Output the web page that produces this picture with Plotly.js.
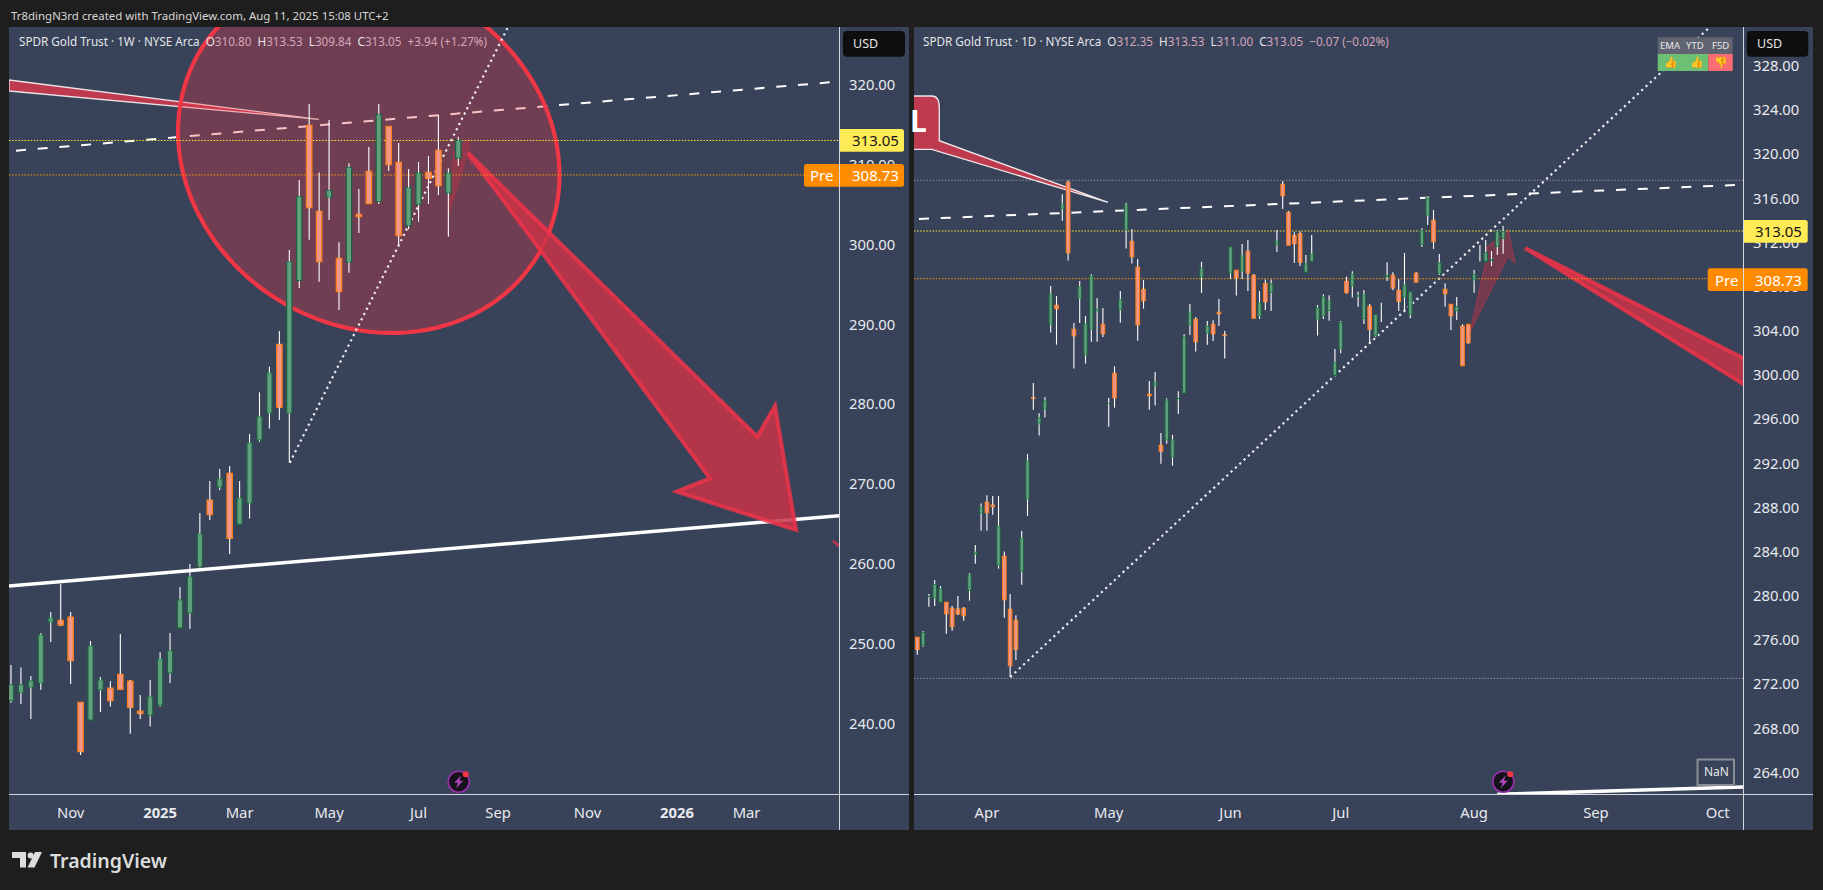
<!DOCTYPE html>
<html><head><meta charset="utf-8">
<script src="https://cdn.plot.ly/plotly-3.0.1.min.js"></script>
<style>html,body{margin:0;padding:0;background:#1e1e1e;overflow:hidden}#c{width:1823px;height:890px}</style>
</head><body><div id="c"></div>
<script>
// ---------- data ----------
const weeklyOpen=[242.85,243.86,244.52,245.02,252.67,252.92,253.3,242.64,240.39,244.15,244.4,246.15,245.28,241.52,241.0,242.27,246.28,251.92,253.8,259.65,267.96,269.59,271.34,264.95,267.58,275.48,278.86,287.5,278.86,295.48,314.95,304.17,305.92,298.28,297.78,303.79,309.18,305.38,314.82,310.31,302.37,305.0,309.06,311.81,306.42,310.80];
const weeklyHigh=[247.32,246.99,245.94,251.29,253.96,257.47,253.96,242.64,250.33,245.82,245.3,251.21,245.44,243.56,245.44,248.91,251.33,257.1,259.98,266.37,270.38,271.88,272.26,270.38,276.27,281.49,284.7,289.17,299.32,308.1,317.62,309.05,315.61,300.28,310.18,306.97,312.23,317.62,314.82,312.73,309.47,310.35,311.1,316.24,309.56,313.53];
const weeklyLow=[242.6,242.43,240.56,244.23,250.2,252.2,244.94,236.04,240.39,241.43,242.1,244.27,238.7,240.56,239.6,242.1,245.07,251.92,251.83,259.52,265.49,269.25,261.23,264.95,265.66,275.3,276.94,278.02,272.68,294.56,300.62,295.35,303.08,291.8,296.48,301.45,305.13,305.09,309.22,299.95,301.91,302.87,305.09,306.22,300.99,309.84];
const weeklyClose=[244.86,244.86,245.36,251.12,253.25,252.33,247.86,236.46,249.74,245.48,242.85,244.27,242.02,241.23,243.35,248.11,249.12,255.51,258.39,263.78,266.16,270.67,263.2,268.29,275.18,278.44,283.95,279.61,297.86,306.05,304.63,297.86,306.8,294.1,309.68,303.5,305.13,316.32,310.02,301.12,307.17,309.01,308.3,307.38,309.01,313.05];

const dailyOpen=[276.25,275.52,279.9,279.78,279.42,279.42,278.87,278.81,278.87,280.47,283.76,287.48,288.47,288.23,282.77,283.58,278.78,277.79,282.22,288.75,297.96,295.54,296.9,304.6,306.32,315.02,317.47,304.15,306.93,301.8,304.15,305.78,304.6,297.39,300.16,305.87,313.12,312.12,309.77,307.77,298.26,298.99,293.64,294.1,292.56,297.84,298.35,304.51,305.06,308.86,303.76,304.6,305.69,303.64,309.22,309.49,309.4,311.22,309.04,305.33,308.29,307.47,311.76,317.28,314.75,312.63,312.82,309.31,310.31,305.06,305.33,305.81,299.98,302.34,308.49,308.04,307.1,305.08,306.23,303.54,306.15,308.89,309.04,307.68,307.05,305.47,309.22,311.82,314.47,314.02,309.19,307.77,306.41,305.78,304.45,304.6,308.59,310.78,310.28,310.34,311.64,312.35];
const dailyHigh=[276.25,276.82,280.17,281.44,280.9,279.42,279.08,279.99,278.99,282.07,284.61,288.38,289.11,289.05,289.05,284.03,280.17,278.24,285.88,292.85,299.29,296.54,298.02,308.08,307.17,316.38,317.62,304.72,308.53,305.36,309.13,306.99,306.08,297.93,300.8,307.62,315.59,313.24,310.52,308.62,299.47,300.29,294.76,297.9,294.58,298.53,303.7,306.45,305.27,310.25,304.9,304.97,306.9,304.0,311.64,309.49,311.88,312.24,309.16,307.62,308.65,308.65,313.15,317.58,314.87,312.94,313.0,310.88,312.7,306.35,307.32,307.23,302.37,304.9,308.92,309.4,307.56,307.71,306.44,305.5,306.56,310.22,309.31,308.68,311.06,307.56,309.34,313.3,316.17,314.96,310.97,308.31,306.41,307.08,304.6,304.6,309.52,311.79,312.24,311.24,313.15,313.53];
const dailyLow=[274.68,275.4,279.02,279.08,279.42,276.58,276.85,278.27,277.76,279.57,282.92,285.91,285.91,287.36,282.47,278.03,272.68,274.19,281.02,287.24,296.87,294.52,296.15,303.85,302.76,313.99,310.37,300.59,304.72,301.04,303.03,303.03,303.46,295.33,297.05,304.75,311.46,310.1,303.12,306.02,296.87,297.24,291.98,293.79,291.8,296.48,298.35,303.64,302.13,307.44,302.76,303.09,304.45,301.5,308.71,307.2,308.71,307.62,305.15,305.09,305.9,305.81,311.15,315.05,311.76,310.16,309.89,309.31,310.31,303.58,305.09,304.93,299.98,301.97,307.38,307.02,306.2,304.63,302.88,303.48,304.81,308.53,307.71,305.81,305.84,305.14,308.41,311.6,313.6,311.42,309.07,306.2,304.09,304.99,300.86,302.85,307.47,310.28,310.28,309.88,310.88,311.0];
const dailyClose=[275.16,276.7,280.0,281.05,280.68,278.39,277.21,278.36,278.21,281.95,284.01,288.08,287.54,288.08,286.36,279.66,273.68,275.16,285.27,292.25,297.9,296.15,297.69,307.38,306.02,315.53,311.09,303.58,308.02,304.66,309.01,306.02,303.76,297.45,297.96,306.84,315.44,310.73,304.57,306.75,298.14,299.41,293.1,297.78,294.16,297.93,303.49,305.75,303.03,309.74,304.48,303.76,305.57,303.58,311.64,308.83,310.82,309.25,305.15,306.57,306.66,308.29,312.18,316.26,311.76,311.91,310.22,310.1,311.0,306.11,307.11,306.74,301.16,304.78,307.47,309.19,307.23,307.29,304.15,305.5,306.2,309.07,307.89,306.68,308.19,307.56,308.41,313.12,316.07,312.09,310.19,307.38,305.39,306.23,300.86,302.94,309.13,310.82,311.12,310.46,313.05,313.05];

const weeklyTickVals=[6,15,23,32,41,49,58,67,74];
const weeklyTickText=['Nov','<b>2025</b>','Mar','May','Jul','Sep','Nov','<b>2026</b>','Mar'];
const dailyTickVals=[12,33,54,73,96,117,138];
const dailyTickText=['Apr','May','Jun','Jul','Aug','Sep','Oct'];
const weeklyPriceTicks=[240,250,260,270,280,290,300,310,320];
const dailyPriceTicks=[264,268,272,276,280,284,288,292,296,300,304,308,312,316,320,324,328];
const lastPrice=313.05, prePrice=308.73;
const weeklyLegend=['O310.80','H313.53','L309.84','C313.05','+3.94 (+1.27%)'];
const dailyLegend=['O312.35','H313.53','L311.00','C313.05','−0.07 (−0.02%)'];

// ---------- style ----------
const W=1823,H=890;
const BG='#1e1e1e',PANEL='#384258',AXIS='#d6d9e0',TXT='#e8eaef';
const UPFILL='#60a07d',UPLINE='#1f5f42',DOWNFILL='#f0968a',DOWNLINE='#fb7d1c';
const RED='#f23645',ARROWFILL='rgba(200,50,70,0.85)',ARROWLINE='rgba(236,52,74,0.85)';
const FONT='"Noto Sans",sans-serif';
const DOTS='2.2px,3.7px',FINE='1.5px,1.6px';
const fx=p=>p/W, fy=p=>1-p/H;

// ---------- candles: wick segments and body bars, from the arrays ----------
function candleTraces(o,h,l,c,xa,ya,bodyW,lineW){
  const ids=o.map((_,i)=>i);
  const wx=[],wy=[];
  ids.forEach(i=>{
    const top=Math.max(o[i],c[i]),bot=Math.min(o[i],c[i]);
    wx.push(i,i,null,i,i,null);
    wy.push(h[i],top,null,bot,l[i],null);
  });
  const up=ids.map(i=>c[i]>=o[i]);
  return [
    {type:'scatter',mode:'lines',x:wx,y:wy,xaxis:xa,yaxis:ya,hoverinfo:'skip',showlegend:false,
     line:{color:'#ffffff',width:1.1}},
    {type:'bar',x:ids,base:ids.map(i=>Math.min(o[i],c[i])),y:ids.map(i=>Math.abs(c[i]-o[i])),
     width:bodyW,xaxis:xa,yaxis:ya,showlegend:false,hoverinfo:'skip',
     marker:{color:up.map(u=>u?UPFILL:DOWNFILL),line:{color:up.map(u=>u?UPLINE:DOWNLINE),width:lineW}}}
  ];
}

// ---------- shapes ----------
const shapes=[];
const XL=[-0.2,83.3],YL=[231.15,327.27];
const XR=[-0.57,142.36],YR=[262.06,331.53];

function rr(x0,y0,x1,y1,r,corners){
  const c=corners||[1,1,1,1];
  const P=(x,y)=>fx(x)+' '+fy(y);
  const [tl,tr,br,bl]=c.map(v=>v*r);
  return 'M '+P(x0+tl,y0)+' L '+P(x1-tr,y0)+' Q '+P(x1,y0)+' '+P(x1,y0+tr)+
    ' L '+P(x1,y1-br)+' Q '+P(x1,y1)+' '+P(x1-br,y1)+' L '+P(x0+bl,y1)+' Q '+P(x0,y1)+' '+P(x0,y1-bl)+
    ' L '+P(x0,y0+tl)+' Q '+P(x0,y0)+' '+P(x0+tl,y0)+' Z';
}
function box(x0,y0,x1,y1,fill,layer){shapes.push({type:'rect',xref:'paper',yref:'paper',x0:fx(x0),x1:fx(x1),y0:fy(y1),y1:fy(y0),fillcolor:fill,line:{width:0},layer:layer||'below'});}
function rbox(x0,y0,x1,y1,r,fill,corners,layer){shapes.push({type:'path',xref:'paper',yref:'paper',path:rr(x0,y0,x1,y1,r,corners),fillcolor:fill,line:{width:0},layer:layer||'above'});}
function seg(xa,ya,x0,y0,x1,y1,color,width,dash){shapes.push({type:'line',xref:xa,yref:ya,x0,y0,x1,y1,line:{color,width,dash:dash||'solid'},layer:'below'});}
function poly(xa,ya,pts,fill,color,width){shapes.push({type:'path',xref:xa,yref:ya,path:'M '+pts.map(p=>p.join(' ')).join(' L ')+' Z',fillcolor:fill,line:{color,width},layer:'below'});}

// panels
box(9,27,909,830,PANEL);
box(914,27,1813,830,PANEL);

// left panel drawings (index, price)
poly('x','y',[[-0.2,320.63],[30.96,315.70],[-0.2,319.25]],'#bd3a4f','rgba(255,255,255,0.85)',1.3);
seg('x','y',0.5,311.77,83.3,320.43,'#ffffff',2,'10px,11.8px');
(function(){
  const c=[35.99,311.42],rx=19.19,ry=22.49,phi=83*Math.PI/180;
  const pts=[];
  for(let t=0;t<360;t+=3){const a=t*Math.PI/180;pts.push([c[0]+rx*Math.cos(a),c[1]-ry*Math.cos(a-phi)]);}
  poly('x','y',pts,'rgba(242,54,69,0.3)','rgba(242,54,69,0.98)',4.2);
})();
seg('x','y',-0.2,257.22,83.3,266.02,'#ffffff',3.5);
seg('x','y',28.05,272.67,50,327.27,'rgba(255,255,255,0.9)',2.2,DOTS);
poly('x','y',[[43.99,303.71],[44.57,310.98],[44.44,311.48],[45.98,313.11],[46.38,309.97],[45.88,311.23]],'rgba(200,50,70,0.35)','rgba(220,50,70,0.3)',1.5);
poly('x','y',[[45.98,311.48],[75.08,275.93],[76.86,279.77],[78.97,264.24],[66.97,269.04],[70.32,270.71]],ARROWFILL,ARROWLINE,4);
seg('x','y',82.7,262.86,83.3,262.23,'rgba(190,55,75,0.9)',3);
seg('x','y',XL[0],lastPrice,XL[1],lastPrice,'#ffeb3b',1,FINE);
seg('x','y',XL[0],prePrice,XL[1],prePrice,'#ff9800',1,FINE);

// right panel drawings (index, price)
shapes.push({type:'path',xref:'x2',yref:'y2',layer:'below',fillcolor:'#bd3a4f',line:{color:'rgba(255,255,255,0.88)',width:1.3},
  path:'M -3 325.28 L 2.53 325.28 Q 3.79 325.28 3.79 324.2 L 3.79 321.23 L 32.88 315.65 L 2.48 320.44 L -3 320.44 Z'});
seg('x2','y2',XR[0],317.65,XR[1],317.65,'#8a8d96',1,FINE);
seg('x2','y2',XR[0],272.53,XR[1],272.53,'#8a8d96',1,FINE);
seg('x2','y2',0.29,314.14,142.36,317.25,'#ffffff',2,'10px,11.8px');
seg('x2','y2',16.03,272.65,136.67,331.53,'rgba(255,255,255,0.9)',2.2,DOTS);
seg('x2','y2',100,262.03,142.36,262.69,'#ffffff',3.5);
poly('x2','y2',[[95.29,303.93],[98.17,310.73],[98.05,311.54],[101.9,313.14],[103.05,310.13],[101.9,310.79]],'rgba(200,50,70,0.42)','rgba(220,50,70,0.35)',1.5);
poly('x2','y2',[[104.78,311.51],[152.2,298.94],[152.2,295.97]],ARROWFILL,ARROWLINE,4);
seg('x2','y2',XR[0],lastPrice,XR[1],lastPrice,'#ffeb3b',1,FINE);
seg('x2','y2',XR[0],prePrice,XR[1],prePrice,'#ff9800',1,FINE);

// price scale chips
[[839,904,129,151.7,804,164,186.7,843,905],[1743,1807.7,220,242.7,1707.7,268.3,291,1746.7,1808.3]].forEach(a=>{
  rbox(a[4],a[5],a[1],a[6],2.5,'#ff8c00');
  rbox(a[0],a[2],a[1],a[3],2.5,'#ffeb55',[0,1,1,0]);
  rbox(a[7],31,a[8],56.7,4,'#0e0e0f');
});
// axis rules
[[9,909,839,27,830],[914,1813,1743,27,830]].forEach(a=>{
  shapes.push({type:'line',xref:'paper',yref:'paper',x0:fx(a[0]),x1:fx(a[1]),y0:fy(794.5),y1:fy(794.5),line:{color:AXIS,width:1},layer:'above'});
  shapes.push({type:'line',xref:'paper',yref:'paper',x0:fx(a[2]+.5),x1:fx(a[2]+.5),y0:fy(a[3]),y1:fy(a[4]),line:{color:AXIS,width:1},layer:'above'});
});
// indicator table
box(1657.7,37.3,1732.7,54,'#5f6470','above');
box(1657.7,54,1708.3,71,'#6cbf73','above');
box(1708.3,54,1732.7,71,'#fb6d73','above');
// NaN box
shapes.push({type:'rect',xref:'paper',yref:'paper',x0:fx(1697.5),x1:fx(1734),y0:fy(785),y1:fy(759.5),line:{color:'#8a8d96',width:2},layer:'above'});
// data-window badges
[[458.7,781.7],[1503.3,781.7]].forEach(p=>{
  const [x,y]=p;
  shapes.push({type:'circle',xref:'paper',yref:'paper',x0:fx(x-10.5),x1:fx(x+10.5),y0:fy(y+10.5),y1:fy(y-10.5),fillcolor:'#14121a',line:{color:'#9c2fb0',width:1.6},layer:'above'});
  shapes.push({type:'circle',xref:'paper',yref:'paper',x0:fx(x+4),x1:fx(x+10),y0:fy(y-4.5),y1:fy(y-10.5),fillcolor:RED,line:{width:0},layer:'above'});
  const b=[[2.5,-6.5],[-4.5,1],[-0.7,1],[-2.5,6.5],[4.5,-1],[0.7,-1]];
  shapes.push({type:'path',xref:'paper',yref:'paper',fillcolor:'#ab47bc',line:{width:0},layer:'above',
    path:'M '+b.map(q=>fx(x+q[0])+' '+fy(y+q[1])).join(' L ')+' Z'});
});
// brand mark
box(12,852,26,858,'#dcdcdc');box(20,858,26,867.5,'#dcdcdc');
shapes.push({type:'circle',xref:'paper',yref:'paper',x0:fx(27.6),x1:fx(33.6),y0:fy(858.4),y1:fy(852.4),fillcolor:'#dcdcdc',line:{width:0},layer:'below'});
shapes.push({type:'path',xref:'paper',yref:'paper',fillcolor:'#dcdcdc',line:{width:0},layer:'below',
  path:'M '+[[35,852],[42,852],[34.5,867.5],[27.5,867.5]].map(q=>fx(q[0])+' '+fy(q[1])).join(' L ')+' Z'});

// ---------- text ----------
const anns=[];
function note(t,x,y,size,color,anchor,family,weight){anns.push({text:t,xref:'paper',yref:'paper',x:fx(x),y:fy(y),xanchor:anchor||'left',yanchor:'middle',showarrow:false,borderpad:0,align:anchor||'left',font:{family:family||FONT,size,color,weight:weight||400}});}
const VAL='rgb(214,166,188)',LBL='#e4e6ea';
function legend(name,vals,x,y){
  const parts=vals.slice(0,4).map(v=>'<span style="color:'+LBL+'">'+v[0]+'</span><span style="color:'+VAL+'">'+v.slice(1)+'</span>');
  note('<span style="color:'+LBL+'">'+name+'</span>  '+parts.join('  ')+'  <span style="color:'+VAL+'">'+vals[4]+'</span>',x,y,11.7,LBL);
}
note('Tr8dingN3rd created with TradingView.com, Aug 11, 2025 15:08 UTC+2',10,15.5,11.45,'#d6d6d6');
legend('SPDR Gold Trust · 1W · NYSE Arca',weeklyLegend,17.5,41);
legend('SPDR Gold Trust · 1D · NYSE Arca',dailyLegend,921.5,41);
[[852,850.7,140.3,175.3,808.5],[1756,1754.3,231.3,279.7,1713.5]].forEach(a=>{
  note('USD',a[0],44,12.5,'#e6e6e6');
  note(lastPrice.toFixed(2),a[1],a[2],15,'#14141a');
  note(prePrice.toFixed(2),a[1],a[3],15,'#ffffff');
  note('Pre',a[4],a[3],15,'#ffffff');
});
note('EMA',1670,46,9.5,'#e8e8ea','center');note('YTD',1695,46,9.5,'#e8e8ea','center');note('F5D',1720.5,46,9.5,'#e8e8ea','center');
note('👍',1670.5,63,11,'#f5b000','center','"Noto Color Emoji","Noto Sans"');
note('👍',1696.5,63,11,'#f5b000','center','"Noto Color Emoji","Noto Sans"');
note('👎',1720.5,63,11,'#f5b000','center','"Noto Color Emoji","Noto Sans"');
note('NaN',1716,771,12,'#e8e8ea','center');
note('TradingView',49,860,19.5,'#dcdcdc','left',FONT,600);
note('L',927.6,120,30,'#ffffff','right',FONT,700);

// ---------- figure ----------
const traces=[
  ...candleTraces(weeklyOpen,weeklyHigh,weeklyLow,weeklyClose,'x','y',0.54,1.3),
  ...candleTraces(dailyOpen,dailyHigh,dailyLow,dailyClose,'x2','y2',0.62,1.1)
];
const ax={showgrid:false,zeroline:false,showline:false,ticks:'',fixedrange:true,automargin:false,
  tickfont:{family:FONT,size:14.8,color:TXT}};
const layout={
  width:W,height:H,margin:{l:0,r:0,t:0,b:0},paper_bgcolor:BG,plot_bgcolor:'rgba(0,0,0,0)',showlegend:false,
  barmode:'overlay',dragmode:false,hovermode:false,shapes,annotations:anns,
  xaxis:{...ax,domain:[fx(9),fx(839)],range:XL,anchor:'y',tickmode:'array',tickvals:weeklyTickVals,ticktext:weeklyTickText,ticklabelstandoff:8},
  yaxis:{...ax,domain:[fy(794),fy(27)],range:YL,anchor:'x',side:'right',tickmode:'array',tickvals:weeklyPriceTicks,ticktext:weeklyPriceTicks.map(v=>v.toFixed(2)),ticklabelstandoff:9},
  xaxis2:{...ax,domain:[fx(914),fx(1743)],range:XR,anchor:'y2',tickmode:'array',tickvals:dailyTickVals,ticktext:dailyTickText,ticklabelstandoff:8},
  yaxis2:{...ax,domain:[fy(794),fy(27)],range:YR,anchor:'x2',side:'right',tickmode:'array',tickvals:dailyPriceTicks,ticktext:dailyPriceTicks.map(v=>v.toFixed(2)),ticklabelstandoff:9}
};
Plotly.newPlot('c',traces,layout,{displayModeBar:false,staticPlot:true});
</script></body></html>
